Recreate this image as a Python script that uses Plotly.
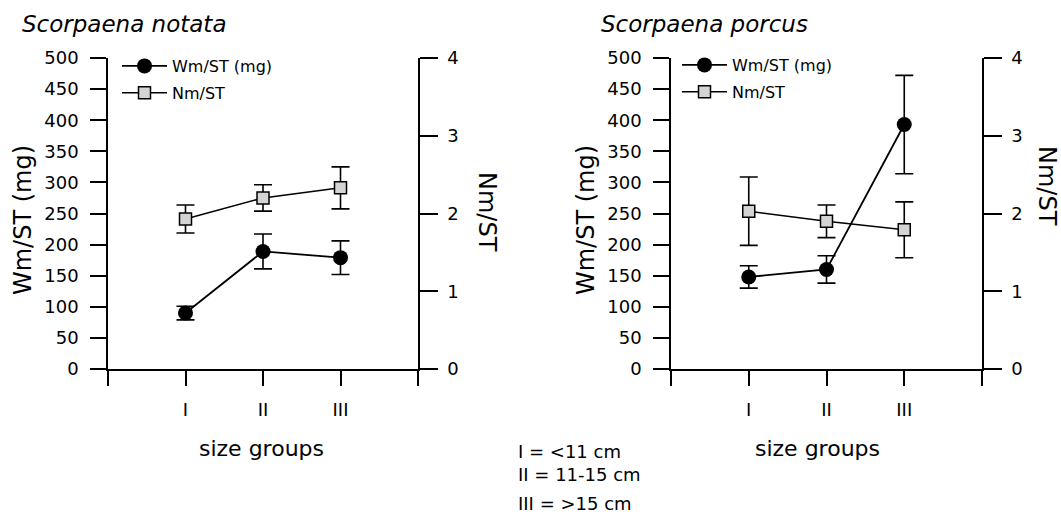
import plotly.graph_objects as go

W, H = 1061, 514

categories = ["I", "II", "III"]
xpos = [1, 2, 3]

notata_wm = [90, 189, 179]
notata_wm_err = [11, 28, 27]
notata_nm = [1.93, 2.20, 2.33]
notata_nm_err = [0.18, 0.17, 0.27]

porcus_wm = [148, 160, 393]
porcus_wm_err = [18, 22, 79]
porcus_nm = [2.03, 1.90, 1.79]
porcus_nm_err = [0.44, 0.21, 0.36]

wm_ticks = [0, 50, 100, 150, 200, 250, 300, 350, 400, 450, 500]
nm_ticks = [0, 1, 2, 3, 4]
x_tickvals = [0, 1, 2, 3, 4]
x_ticktext = [""] + categories + [""]

FONT = "DejaVu Sans, Liberation Sans, Arial, sans-serif"


def px(x):
    return x / W


def py(y):
    return 1 - y / H


fig = go.Figure()


def add_panel(wm, wm_err, nm, nm_err, xa, ya_left, ya_right, legend, tag):
    fig.add_trace(go.Scatter(
        x=xpos, y=wm, name="Wm/ST (mg)", mode="lines+markers",
        xaxis=xa, yaxis=ya_left, legend=legend, legendgroup="wm" + tag,
        line=dict(color="black", width=1.8),
        marker=dict(symbol="circle", size=15, color="black"),
        error_y=dict(type="data", array=wm_err, color="black", thickness=1.6, width=9),
    ))
    fig.add_trace(go.Scatter(
        x=xpos, y=nm, name="Nm/ST", mode="lines+markers",
        xaxis=xa, yaxis=ya_right, legend=legend, legendgroup="nm" + tag,
        line=dict(color="black", width=1.5),
        marker=dict(symbol="square", size=12, color="#d4d4d4",
                    line=dict(color="black", width=1.5)),
        error_y=dict(type="data", array=nm_err, color="black", thickness=1.6, width=9),
    ))


add_panel(notata_wm, notata_wm_err, notata_nm, notata_nm_err, "x", "y", "y2", "legend", "1")
add_panel(porcus_wm, porcus_wm_err, porcus_nm, porcus_nm_err, "x2", "y3", "y4", "legend2", "2")

ydom = [py(369), py(58)]
xdom1 = [px(108), px(418)]
xdom2 = [px(671), px(982)]

axis_common = dict(showgrid=False, zeroline=False, showline=True, linecolor="black",
                   linewidth=1.5, ticks="outside", tickwidth=1.5, tickcolor="black",
                   automargin=False,
                   tickfont=dict(family=FONT, size=18, color="black"))

xaxis_cfg = dict(axis_common, range=[0, 4], tickvals=x_tickvals, ticktext=x_ticktext,
                 ticklen=15, ticklabelstandoff=9)
yleft_cfg = dict(axis_common, range=[0, 500], tickvals=wm_ticks, ticklen=16,
                 ticklabelstandoff=8)
yright_cfg = dict(axis_common, range=[0, 4], tickvals=nm_ticks, ticklen=18, side="right",
                  ticklabelstandoff=6)

legend_common = dict(xanchor="left", yanchor="top", bgcolor="rgba(0,0,0,0)",
                     font=dict(family=FONT, size=16, color="black"),
                     itemwidth=45, traceorder="grouped", tracegroupgap=3,
                     borderwidth=0)

fig.update_layout(
    width=W, height=H,
    margin=dict(l=0, r=0, t=0, b=0, pad=0, autoexpand=False),
    paper_bgcolor="white", plot_bgcolor="white",
    font=dict(family=FONT, color="black"),
    xaxis=dict(xaxis_cfg, domain=xdom1, anchor="y"),
    yaxis=dict(yleft_cfg, domain=ydom, anchor="x"),
    yaxis2=dict(yright_cfg, overlaying="y", anchor="x"),
    xaxis2=dict(xaxis_cfg, domain=xdom2, anchor="y3"),
    yaxis3=dict(yleft_cfg, domain=ydom, anchor="x2"),
    yaxis4=dict(yright_cfg, overlaying="y3", anchor="x2"),
    legend=dict(legend_common, x=px(117), y=py(49)),
    legend2=dict(legend_common, x=px(677), y=py(48)),
    showlegend=True,
)

ann = []
# panel titles
ann.append(dict(text="<i>Scorpaena notata</i>", x=px(20), y=py(24), xanchor="left",
                yanchor="middle", font=dict(size=23)))
ann.append(dict(text="<i>Scorpaena porcus</i>", x=px(599), y=py(24), xanchor="left",
                yanchor="middle", font=dict(size=23)))
# y titles
ann.append(dict(text="Wm/ST (mg)", x=px(23), y=py(220), textangle=-90, xanchor="center",
                yanchor="middle", font=dict(size=24)))
ann.append(dict(text="Nm/ST", x=px(487), y=py(212), textangle=90, xanchor="center",
                yanchor="middle", font=dict(size=24)))
ann.append(dict(text="Wm/ST (mg)", x=px(586), y=py(220), textangle=-90, xanchor="center",
                yanchor="middle", font=dict(size=24)))
ann.append(dict(text="Nm/ST", x=px(1047), y=py(186), textangle=90, xanchor="center",
                yanchor="middle", font=dict(size=24)))
# x titles
ann.append(dict(text="size groups", x=px(261), y=py(448), xanchor="center",
                yanchor="middle", font=dict(size=22)))
ann.append(dict(text="size groups", x=px(817), y=py(448), xanchor="center",
                yanchor="middle", font=dict(size=22)))
# size group key
key_lines = ["I = <11 cm", "II = 11-15 cm", "III = >15 cm"]
key_y = [451, 474, 503]
for t, yy in zip(key_lines, key_y):
    ann.append(dict(text=t, x=px(516), y=py(yy), xanchor="left", yanchor="middle",
                    font=dict(size=18)))

for a in ann:
    a.update(xref="paper", yref="paper", showarrow=False)
    a.setdefault("font", {})
    a["font"].update(family=FONT, color="black")
fig.update_layout(annotations=ann)

fig.write_html("out.html")
